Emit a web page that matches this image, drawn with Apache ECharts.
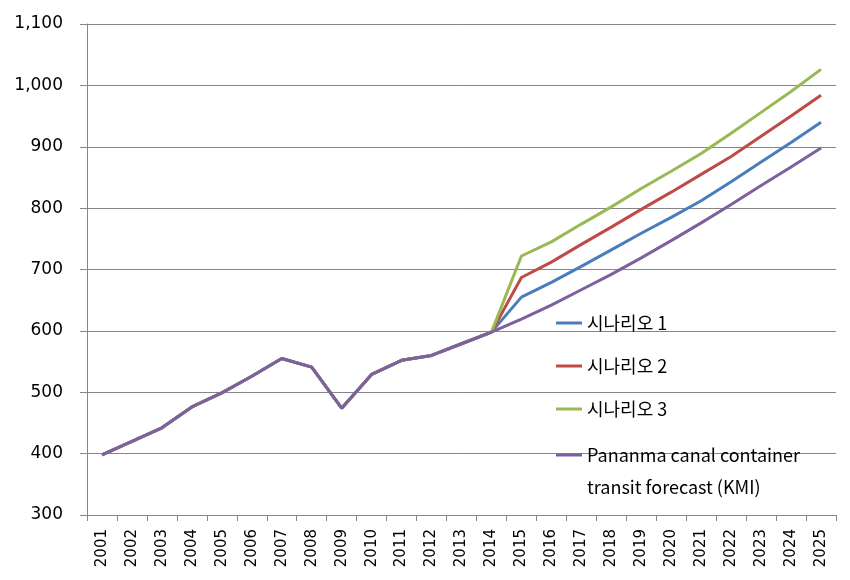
<!DOCTYPE html>
<html><head><meta charset="utf-8">
<script src="https://cdn.jsdelivr.net/npm/echarts@6/dist/echarts.min.js"></script>
<style>html,body{margin:0;padding:0;background:#fff}#c{width:850px;height:580px}</style>
</head><body><div id="c"></div>
<script>
const years = ['2001','2002','2003','2004','2005','2006','2007','2008','2009','2010','2011','2012','2013','2014','2015','2016','2017','2018','2019','2020','2021','2022','2023','2024','2025'];
// 2001-2014 actual (shared by all series)
const history = [398, 420, 442, 476, 499, 526, 555, 541, 474, 529, 552, 560, 579, 598];
// 2015-2025 forecasts
const scenario1 = [655, 679, 705, 732, 759, 785, 812, 843, 875, 907, 940];
const scenario2 = [687, 712, 741, 769, 798, 826, 855, 884, 917, 950, 984];
const scenario3 = [722, 745, 774, 802, 832, 860, 889, 922, 956, 990, 1026];
const kmi       = [619, 642, 667, 692, 719, 747, 776, 806, 837, 867, 898];
const names = ['시나리오 1', '시나리오 2', '시나리오 3', 'Pananma canal container transit forecast (KMI)'];
const colors = ['#4a7ebb', '#be4b48', '#98b954', '#7d60a0'];

const chart = echarts.init(document.getElementById('c'));
const mk = (i, arr) => ({
  name: names[i], type: 'line', data: history.concat(arr), symbol: 'none',
  lineStyle: { width: 3, color: colors[i] }, itemStyle: { color: colors[i] }, z: 2 + i
});
const legendText = { fontFamily: '"Noto Sans CJK KR", sans-serif', fontSize: 18, lineHeight: 32, color: '#000' };
const numFont = '"DejaVu Sans", sans-serif';
chart.setOption({
  animation: false,
  color: colors,
  grid: { left: 87, right: 14, top: 24, bottom: 65 },
  legend: [{
    orient: 'vertical', left: 556, top: 307, itemGap: 11, padding: 0,
    icon: 'rect', itemWidth: 26, itemHeight: 3,
    data: names.slice(0, 3),
    textStyle: legendText
  }, {
    orient: 'vertical', left: 556, top: 407, padding: 0,
    icon: 'rect', itemWidth: 26, itemHeight: 3,
    data: [names[3]],
    formatter: () => ' \nPananma canal container\ntransit forecast (KMI)',
    textStyle: legendText
  }],
  xAxis: {
    type: 'category', data: years, boundaryGap: true,
    axisLine: { lineStyle: { color: '#868686', width: 1 } },
    axisTick: { show: true, length: 6, lineStyle: { color: '#868686' } },
    axisLabel: { rotate: 90, interval: 0, margin: 14, fontFamily: numFont, fontSize: 15, color: '#000' }
  },
  yAxis: {
    type: 'value', min: 300, max: 1100, interval: 100,
    axisLine: { show: true, lineStyle: { color: '#868686', width: 1 } },
    axisTick: { show: true, length: 7, lineStyle: { color: '#868686' } },
    splitLine: { lineStyle: { color: '#868686', width: 1 } },
    axisLabel: { margin: 24, fontFamily: numFont, fontSize: 17, color: '#000',
      formatter: v => v.toString().replace(/\B(?=(\d{3})+(?!\d))/g, ',') }
  },
  series: [mk(0, scenario1), mk(1, scenario2), mk(2, scenario3), mk(3, kmi)]
});
</script></body></html>
